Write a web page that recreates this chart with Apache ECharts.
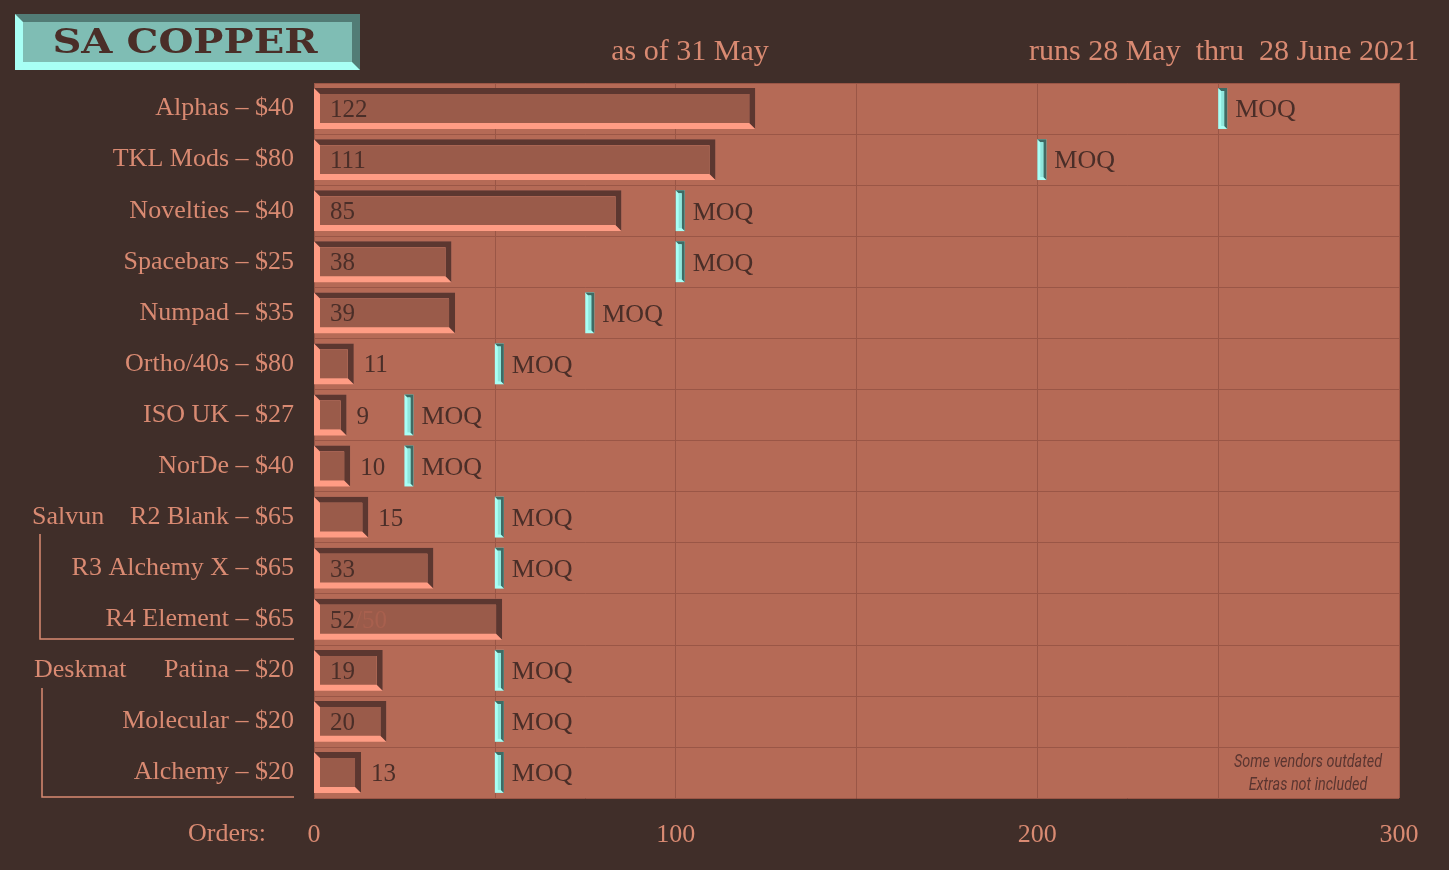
<!DOCTYPE html>
<html>
<head>
<meta charset="utf-8">
<script src="https://cdn.jsdelivr.net/npm/echarts@6/dist/echarts.min.js"></script>
<style>
html,body{margin:0;padding:0;background:#402e29;}
#chart{width:1449px;height:870px;}
</style>
</head>
<body>
<div id="chart"></div>
<script>
var categories = ['Alphas – $40', 'TKL Mods – $80', 'Novelties – $40', 'Spacebars – $25', 'Numpad – $35',
	'Ortho/40s – $80', 'ISO UK – $27', 'NorDe – $40', 'R2 Blank – $65', 'R3 Alchemy X – $65',
	'R4 Element – $65', 'Patina – $20', 'Molecular – $20', 'Alchemy – $20'];
var orders = [122, 111, 85, 38, 39, 11, 9, 10, 15, 33, 52, 19, 20, 13];
var moq = [250, 200, 100, 100, 75, 50, 25, 25, 50, 50, null, 50, 50, 50];
var xTicks = [0, 100, 200, 300];

var serif = '"Liberation Serif", serif';
var textCol = '#d98a72';
var darkText = '#4a2e28';

var chart = echarts.init(document.getElementById('chart'));

function bevelRect(x0, y0, w, h, b, light, dark, fill) {
	var x1 = x0 + w, y1 = y0 + h;
	return [
		{ type: 'rect', shape: { x: x0, y: y0, width: w, height: h }, style: { fill: light } },
		{ type: 'polygon', shape: { points: [[x0, y0], [x1, y0], [x1, y1], [x1 - b, y1 - b], [x1 - b, y0 + b], [x0 + b, y0 + b]] }, style: { fill: dark } },
		{ type: 'rect', shape: { x: x0 + b, y: y0 + b, width: Math.max(w - 2 * b, 0), height: h - 2 * b }, style: { fill: fill } }
	];
}

var option = {
	backgroundColor: '#402e29',
	animation: false,
	grid: { left: 314, right: 50, top: 83, bottom: 72, backgroundColor: '#b56a56', show: true, borderWidth: 0 },
	xAxis: {
		type: 'value', min: 0, max: 300, interval: 50,
		axisLine: { show: false }, axisTick: { show: false },
		axisLabel: {
			color: textCol, fontFamily: serif, fontSize: 26, margin: 24,
			formatter: function (v) { return xTicks.indexOf(v) >= 0 ? String(v) : ''; }
		},
		splitLine: { lineStyle: { color: '#9a5646', width: 1 } }
	},
	yAxis: {
		type: 'category', inverse: true, data: categories,
		axisLine: { show: false }, axisTick: { show: false },
		axisLabel: { color: textCol, fontFamily: serif, fontSize: 26, margin: 20 },
		splitLine: { show: true, lineStyle: { color: '#9a5646', width: 1 } }
	},
	series: [{
		type: 'custom',
		data: orders.map(function (v, i) { return [v, i, moq[i] == null ? -1 : moq[i]]; }),
		encode: { x: 0, y: 1 },
		renderItem: function (params, api) {
			var v = api.value(0), i = api.value(1), m = api.value(2);
			var p0 = api.coord([0, i]), p1 = api.coord([v, i]);
			var band = api.size([0, 1])[1];
			var h = band * 0.8;
			var y0 = p0[1] - h / 2;
			var w = p1[0] - p0[0];
			var kids = bevelRect(p0[0], y0, w, h, 6, '#ff9c84', '#5c3730', '#9a5b4a');
			var inside = v >= 19;
			kids.push({
				type: 'text',
				style: {
					text: String(v), x: inside ? p0[0] + 16 : p1[0] + 10, y: p0[1] + 2,
					fill: darkText, font: '25px ' + serif, verticalAlign: 'middle'
				}
			});
			if (i === 10) {
				kids.push({
					type: 'text',
					style: { text: '/50', x: p0[0] + 41, y: p0[1] + 2, fill: '#a8604e', font: '25px ' + serif, verticalAlign: 'middle' }
				});
			}
			if (m > 0) {
				var pm = api.coord([m, i]);
				var mx = pm[0];
				kids = kids.concat(bevelRect(mx, y0, 9, h, 3, '#a8fff5', '#3e6b64', '#8fe6dc'));
				kids.push({
					type: 'text',
					style: { text: 'MOQ', x: mx + 17, y: p0[1] + 2, fill: darkText, font: '26px ' + serif, verticalAlign: 'middle' }
				});
			}
			return { type: 'group', children: kids };
		}
	}],
	graphic: [
		{ type: 'group', left: 15, top: 14, children: [
			{ type: 'rect', shape: { x: 0, y: 0, width: 345, height: 56 }, style: { fill: '#a8fff5' } },
			{ type: 'polygon', shape: { points: [[0, 0], [345, 0], [345, 56], [337, 48], [337, 8], [8, 8]] }, style: { fill: '#527c76' } },
			{ type: 'rect', shape: { x: 8, y: 8, width: 329, height: 40 }, style: { fill: '#7fbdb4' } },
			{ type: 'text', x: 170, y: 30, scaleX: 1.18, style: { text: 'SA COPPER', x: 0, y: 0, align: 'center', verticalAlign: 'middle', fill: darkText, font: 'bold 34px "DejaVu Serif", serif' } }
		] },
		{ type: 'text', style: { text: 'as of 31 May', x: 690, y: 52, align: 'center', verticalAlign: 'middle', fill: textCol, font: '30px ' + serif } },
		{ type: 'text', style: { text: 'runs 28 May  thru  28 June 2021', x: 1419, y: 52, align: 'right', verticalAlign: 'middle', fill: textCol, font: '30px ' + serif } },
		{ type: 'text', style: { text: 'Orders:', x: 266, y: 834, align: 'right', verticalAlign: 'middle', fill: textCol, font: '26px ' + serif } },
		{ type: 'text', style: { text: 'Salvun', x: 32, y: 517, verticalAlign: 'middle', fill: textCol, font: '26px ' + serif } },
		{ type: 'text', style: { text: 'Deskmat', x: 34, y: 670, verticalAlign: 'middle', fill: textCol, font: '26px ' + serif } },
		{ type: 'polyline', shape: { points: [[40, 534], [40, 639], [294, 639]] }, style: { stroke: textCol, lineWidth: 1.5, fill: null } },
		{ type: 'polyline', shape: { points: [[42, 688], [42, 797], [294, 797]] }, style: { stroke: textCol, lineWidth: 1.5, fill: null } },
		{ type: 'text', x: 1308, y: 774, scaleX: 0.8, style: { text: 'Some vendors outdated\nExtras not included', x: 0, y: 0, align: 'center', verticalAlign: 'middle', lineHeight: 23, fill: '#5a3530', font: 'italic 18px "Liberation Sans Narrow", "Roboto", sans-serif' } }
	]
};
chart.setOption(option);
</script>
</body>
</html>
